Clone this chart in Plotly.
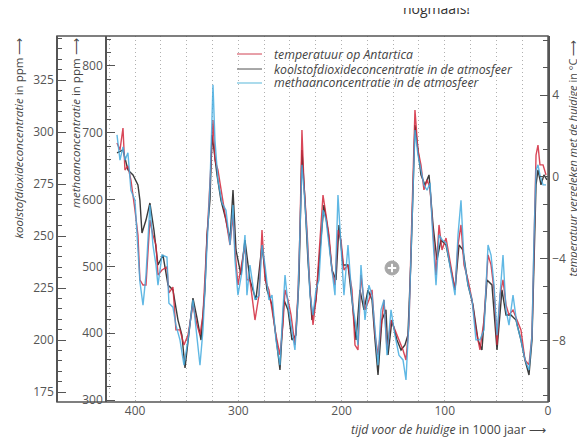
import plotly.graph_objects as go

# ---------------- data ----------------
age_kyr = [417.6, 414.7, 411.8, 409.9, 407.0, 404.1, 400.2, 397.3, 395.4, 392.4,
           389.5, 385.7, 382.8, 379.8, 377.9, 374.0, 369.2, 367.3, 363.4, 360.5,
           356.6, 352.7, 348.8, 344.0, 340.1, 337.2, 334.3, 332.4, 330.4, 327.5,
           325.6, 324.6, 322.7, 319.8, 315.9, 312.0, 308.1, 305.2, 303.3, 300.4,
           296.5, 293.6, 291.7, 288.8, 283.9, 280.0, 277.1, 274.2, 270.4, 267.4,
           263.6, 259.7, 256.8, 254.8, 251.9, 249.0, 245.2, 242.3, 240.3, 238.4,
           236.4, 233.5, 230.6, 227.7, 224.8, 221.9, 218.0, 215.1, 212.2, 209.3,
           206.4, 203.5, 200.6, 197.7, 193.8, 189.9, 187.0, 184.1, 181.2, 177.3,
           173.5, 170.5, 167.6, 164.7, 161.8, 158.9, 156.0, 152.1, 148.3, 144.4,
           140.5, 137.6, 134.7, 132.8, 130.8, 128.9, 126.0, 123.1, 120.2, 117.2,
           114.3, 111.4, 108.5, 105.6, 102.7, 98.8, 95.0, 90.1, 87.2, 84.3,
           81.4, 77.5, 73.6, 69.8, 65.9, 62.0, 58.1, 55.2, 52.3, 49.4,
           46.5, 43.6, 40.7, 37.8, 33.9, 30.0, 26.2, 22.3, 18.4, 15.5,
           13.6, 11.6, 9.7, 7.8, 4.8, 1.9]

temperature = [1.66, 1.32, 2.39, 0.34, 0.54, -0.15, -1.61, -2.83, -5.02, -5.27,
               -5.27, -2.10, -2.83, -3.32, -4.78, -4.54, -4.39, -5.66, -5.37, -7.46,
               -7.46, -8.20, -7.71, -6.24, -7.22, -7.71, -6.73, -5.02, -3.32, -0.63,
               1.56, 2.78, 0.83, 0.34, -0.78, -2.10, -3.32, -1.85, -3.56, -5.27,
               -4.15, -3.32, -5.02, -5.02, -6.98, -5.76, -2.59, -5.02, -5.51, -6.49,
               -7.71, -8.68, -7.22, -5.51, -6.00, -6.73, -8.20, -5.76, -2.59, 2.29,
               -0.39, -2.59, -5.51, -7.22, -6.00, -3.80, -0.88, -1.85, -2.83, -4.54,
               -5.27, -2.59, -3.07, -4.54, -4.29, -5.51, -8.20, -8.44, -4.78, -6.49,
               -6.00, -5.51, -7.71, -8.68, -7.22, -6.00, -8.44, -6.98, -7.46, -7.95,
               -8.44, -8.93, -7.22, -3.56, -0.39, 3.27, 1.32, 0.59, -0.63, -0.15,
               -0.54, -2.59, -4.78, -2.34, -3.56, -2.98, -4.05, -5.51, -3.32, -2.34,
               -4.29, -5.02, -6.00, -7.46, -8.44, -6.98, -3.80, -4.29, -5.51, -8.20,
               -5.76, -5.02, -6.24, -6.73, -6.49, -6.98, -7.46, -8.93, -9.17, -7.71,
               -2.83, 1.07, 1.56, 0.59, 0.59, 0.10]

methane = [697, 659, 679, 659, 670, 614, 599, 525, 477, 442,
           487, 592, 532, 502, 472, 517, 514, 445, 439, 412,
           390, 352, 390, 450, 390, 352, 405, 472, 540, 622,
           719, 772, 689, 629, 595, 584, 532, 592, 510, 457,
           492, 547, 457, 502, 450, 457, 532, 502, 450, 457,
           390, 352, 435, 487, 442, 412, 375, 450, 547, 652,
           614, 547, 457, 427, 465, 480, 584, 570, 532, 495,
           457, 607, 532, 457, 532, 450, 420, 382, 502, 420,
           472, 457, 405, 352, 435, 450, 367, 435, 397, 367,
           360, 330, 420, 517, 607, 704, 667, 644, 622, 614,
           625, 540, 472, 547, 540, 535, 502, 457, 547, 599,
           510, 472, 450, 390, 390, 405, 532, 517, 472, 397,
           457, 517, 435, 412, 457, 412, 390, 360, 345, 397,
           540, 644, 652, 637, 622, 622]

co2_age = [417.6, 411.8, 407.0, 402.1, 397.3, 395.4, 393.4, 389.5, 385.7, 381.8,
           377.9, 373.1, 368.2, 363.4, 358.5, 354.7, 351.7, 347.9, 344.0, 340.1,
           336.2, 332.4, 330.4, 327.5, 325.6, 323.6, 320.7, 316.9, 312.0, 308.1,
           305.2, 302.3, 297.5, 293.6, 288.8, 283.0, 277.1, 272.3, 267.4, 262.6,
           259.7, 255.8, 251.9, 248.1, 244.2, 241.3, 239.3, 238.4, 235.5, 232.6,
           228.7, 224.8, 220.9, 217.1, 213.2, 209.3, 205.4, 202.5, 198.6, 193.8,
           189.9, 186.0, 182.2, 178.3, 174.4, 170.5, 167.6, 164.7, 160.9, 157.0,
           155.0, 151.2, 146.3, 142.4, 138.6, 135.7, 132.8, 130.8, 128.9, 126.0,
           123.1, 119.2, 115.3, 111.4, 107.6, 103.7, 98.8, 94.0, 90.1, 86.2,
           82.4, 77.5, 72.7, 67.8, 64.0, 59.1, 54.3, 49.4, 44.6, 40.7,
           35.9, 31.0, 26.2, 22.3, 18.4, 15.5, 13.6, 11.6, 9.7, 6.8,
           3.9, 1.0]

co2 = [290, 291.4, 281.8, 279.4, 274.6, 267.3, 251.5, 257.7, 265.9, 252.9,
       236.1, 240.9, 226.5, 224.1, 209.6, 202.4, 186.6, 204.8, 220.2, 210.6,
       200.0, 224.1, 250.5, 267.3, 298.6, 291.4, 279.4, 267.3, 257.7, 248.1,
       272.1, 243.3, 231.3, 248.1, 228.9, 219.3, 245.7, 224.1, 216.9, 197.6,
       185.6, 219.3, 214.5, 200.0, 202.4, 228.9, 267.3, 291.4, 267.3, 238.5,
       209.6, 219.3, 243.3, 264.9, 252.9, 233.7, 228.9, 255.3, 236.1, 236.1,
       219.3, 200.0, 224.1, 214.5, 224.1, 219.3, 200.0, 183.2, 209.6, 214.5,
       192.8, 209.6, 200.0, 195.2, 197.6, 202.4, 238.5, 272.1, 303.4, 291.4,
       279.4, 274.6, 279.4, 255.3, 238.5, 248.1, 245.7, 233.7, 224.1, 245.7,
       243.3, 226.5, 216.9, 200.0, 195.2, 228.9, 226.5, 195.2, 224.1, 212.0,
       212.0, 209.6, 200.0, 190.4, 183.2, 200.0, 243.3, 274.6, 281.8, 274.6,
       279.4, 277.0]

x_ticks = [400, 300, 200, 100, 0]
co2_ticks = [175, 200, 225, 250, 275, 300, 325]
ch4_ticks = [300, 400, 500, 600, 700, 800]
temp_ticks = [-8, -4, 0, 4]

legend_names = ["temperatuur op Antartica",
                "koolstofdioxideconcentratie in de atmosfeer",
                "methaanconcentratie in de atmosfeer"]

# ---------------- styling ----------------
FONT = "Open Sans"
AX = "#555555"
TXT = "#444444"
RED = "#d3283c"
BLACK = "#262626"
CYAN = "#45ace0"
GRID = "#b0b0b0"
GRIDDASH = "1px,3px"

fig = go.Figure()
fig.add_trace(go.Scatter(x=co2_age, y=co2, yaxis="y", mode="lines",
                         line=dict(color=BLACK, width=1.4), opacity=0.9,
                         name=legend_names[1], showlegend=False))
fig.add_trace(go.Scatter(x=age_kyr, y=temperature, yaxis="y2", mode="lines",
                         line=dict(color=RED, width=1.4), opacity=0.85,
                         name=legend_names[0], showlegend=False))
fig.add_trace(go.Scatter(x=age_kyr, y=methane, yaxis="y3", mode="lines",
                         line=dict(color=CYAN, width=1.4), opacity=0.85,
                         name=legend_names[2], showlegend=False))

tickfont = dict(family=FONT, size=12, color=AX)

# the page adds an 8 px body margin, so the figure is 8 px smaller each way
fig.update_layout(
    width=577, height=430,
    margin=dict(l=49, r=37, t=28, b=36),
    paper_bgcolor="white", plot_bgcolor="white",
    showlegend=False,
    xaxis=dict(domain=[0.1018, 1], range=[427.3, 0], tickvals=x_ticks,
               ticks="", showline=False, zeroline=False,
               showgrid=True, gridcolor=GRID, griddash=GRIDDASH, gridwidth=1,
               minor=dict(dtick=25, tick0=0, showgrid=True, gridcolor=GRID,
                          griddash=GRIDDASH, gridwidth=1, ticks=""),
               tickfont=tickfont),
    yaxis=dict(anchor="free", position=0, side="left", range=[170.2, 346.2],
               tickvals=co2_ticks, ticks="inside", ticklen=8, tickwidth=1.3,
               tickcolor=AX, showline=True, linecolor=AX, linewidth=1.5,
               showgrid=False, zeroline=False, tickfont=tickfont,
               minor=dict(dtick=5, tick0=0, ticks="inside", ticklen=4,
                          tickcolor=AX, tickwidth=1, showgrid=False)),
    yaxis2=dict(overlaying="y", anchor="x", side="right", range=[-10.98, 6.88],
                tickvals=temp_ticks, ticks="inside", ticklen=8, tickwidth=1.3,
                tickcolor=AX, showline=True, linecolor=AX, linewidth=1.5,
                showgrid=False, zeroline=False, tickfont=tickfont,
                minor=dict(dtick=4 / 3, tick0=0, ticks="inside", ticklen=5,
                           tickcolor=AX, tickwidth=1, showgrid=False)),
    yaxis3=dict(overlaying="y", anchor="x", side="left", range=[297, 844.9],
                tickvals=ch4_ticks, ticks="inside", ticklen=8, tickwidth=1.3,
                tickcolor=AX, showline=True, linecolor=AX, linewidth=1.5,
                showgrid=False, zeroline=False, tickfont=tickfont,
                minor=dict(dtick=20, tick0=0, ticks="inside", ticklen=4,
                           tickcolor=AX, tickwidth=1, showgrid=False)),
)

# frame around the whole plotting block
fig.add_shape(type="rect", xref="paper", yref="paper", x0=0, x1=1, y0=0, y1=1,
              line=dict(color=AX, width=1.5), layer="above")

# axis titles
title_font = dict(family=FONT, size=11.5, color=TXT)
fig.add_annotation(text="<i>koolstofdioxideconcentratie</i> in ppm ⟶", textangle=-90,
                   xref="paper", yref="paper", x=-0.0794, y=1.0,
                   xanchor="center", yanchor="top", showarrow=False, font=title_font)
fig.add_annotation(text="<i>methaanconcentratie</i> in ppm ⟶", textangle=-90,
                   xref="paper", yref="paper", x=0.0367, y=1.0,
                   xanchor="center", yanchor="top", showarrow=False, font=title_font)
fig.add_annotation(text="<i>temperatuur vergeleken met de huidige</i> in °C ⟶", textangle=-90,
                   xref="paper", yref="paper", x=1.049, y=0.995,
                   xanchor="center", yanchor="top", showarrow=False,
                   font=dict(family=FONT, size=11, color=TXT))
fig.add_annotation(text="<i>tijd voor de huidige</i> in 1000 jaar ⟶",
                   xref="paper", yref="paper", x=1.0, y=-0.0755,
                   xanchor="right", yanchor="middle", showarrow=False,
                   font=dict(family=FONT, size=12.3, color=TXT))
# heading cut off by the top edge
fig.add_annotation(text="nogmaals!", xref="paper", yref="paper", x=0.772, y=1.0765,
                   xanchor="center", yanchor="middle", showarrow=False,
                   font=dict(family=FONT, size=14, color="#333333"))

# manual legend
leg_colors = ["#e0808c", "#8a8a8a", "#8fcfe6"]
leg_y = [0.9508, 0.9098, 0.8716]
for name, col, yy in zip(legend_names, leg_colors, leg_y):
    fig.add_shape(type="line", xref="paper", yref="paper", x0=0.3666, x1=0.4175,
                  y0=yy, y1=yy, line=dict(color=col, width=1.5))
    fig.add_annotation(text="<i>" + name + "</i>", xref="paper", yref="paper",
                       x=0.4379, y=yy, xanchor="left", yanchor="middle",
                       showarrow=False, font=dict(family=FONT, size=12.3, color=TXT))

# grey round "+" badge
cx, cy, rx, ry = 0.6823, 0.3661, 0.01426, 0.01913
fig.add_shape(type="circle", xref="paper", yref="paper", x0=cx - rx, x1=cx + rx,
              y0=cy - ry, y1=cy + ry, fillcolor="#a8a8a8", line=dict(color="#a8a8a8", width=1))
fig.add_shape(type="line", xref="paper", yref="paper", x0=cx - rx * 0.6, x1=cx + rx * 0.6,
              y0=cy, y1=cy, line=dict(color="white", width=2))
fig.add_shape(type="line", xref="paper", yref="paper", x0=cx, x1=cx,
              y0=cy - ry * 0.6, y1=cy + ry * 0.6, line=dict(color="white", width=2))

fig.write_html("out.html")
